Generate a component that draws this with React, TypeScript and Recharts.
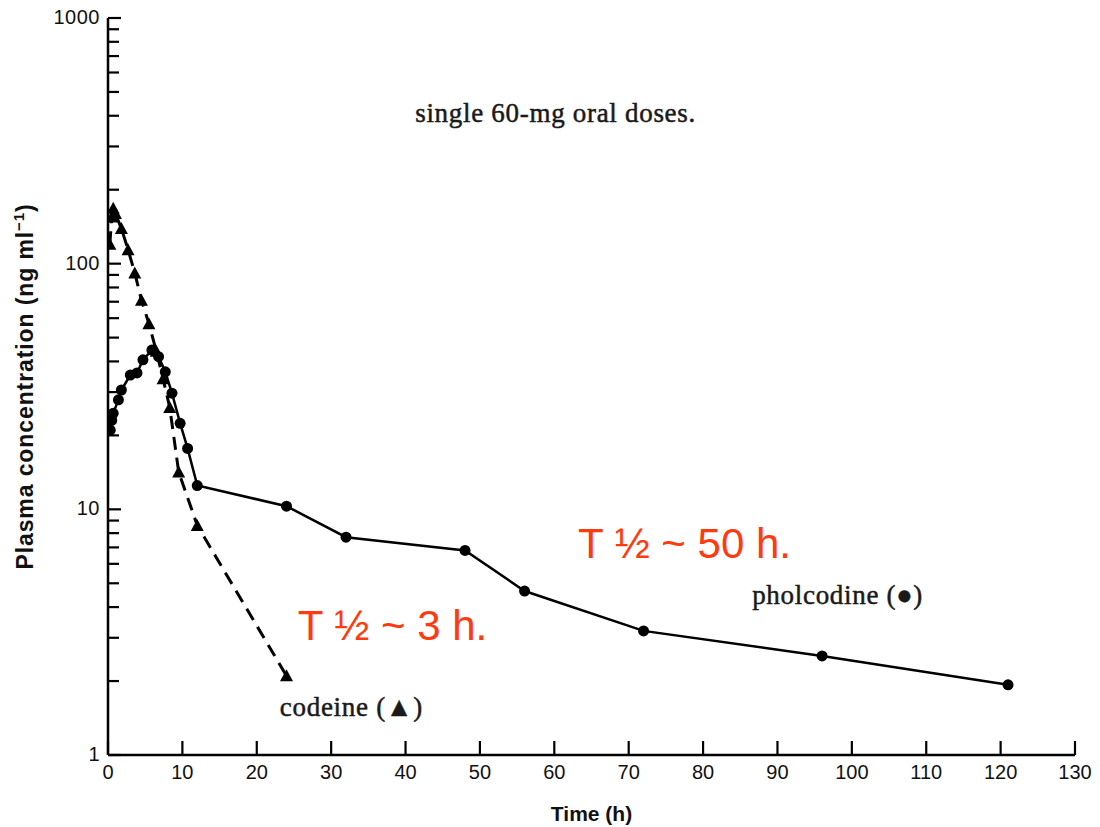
import React from "react";
import { LineChart, Line, XAxis, YAxis, ReferenceDot } from "recharts";

const phTime = [0.3, 0.5, 0.7, 1.4, 1.8, 3, 3.9, 4.7, 5.9, 6.8, 7.7, 8.6, 9.7, 10.7, 12, 24, 32, 48, 56, 72, 96, 121];
const phConc = [21, 23, 24.6, 27.9, 30.6, 35.2, 35.9, 40.6, 44.5, 41.8, 36.3, 29.7, 22.4, 17.7, 12.5, 10.3, 7.7, 6.8, 4.65, 3.2, 2.53, 1.93];

const coTime = [0.25, 0.5, 0.7, 1.0, 1.8, 2.7, 3.6, 4.5, 5.5, 6.5, 7.4, 8.3, 9.5, 12, 24];
const coConc = [120, 155, 168, 160, 139, 114, 91.6, 71, 57, 44, 34, 26, 14.2, 8.6, 2.1];

const xTicks = [0, 10, 20, 30, 40, 50, 60, 70, 80, 90, 100, 110, 120, 130];
const yTicks = [
  1, 2, 3, 4, 5, 6, 7, 8, 9,
  10, 20, 30, 40, 50, 60, 70, 80, 90,
  100, 200, 300, 400, 500, 600, 700, 800, 900,
  1000,
];
const yLabels = [1, 10, 100, 1000];

const pholData = phTime.map((t, i) => ({ t, c: phConc[i] }));
const codData = coTime.map((t, i) => ({ t, c: coConc[i] }));

const annotations = [
  { t: 41.3, c: 377, text: "single 60-mg oral doses.", kind: "serif" },
  { t: 86.6, c: 4.12, text: "pholcodine (\u25CF)", kind: "serif" },
  { t: 23.1, c: 1.44, text: "codeine (\u25B2)", kind: "serif" },
  { t: 63.2, c: 6.34, text: "T \u00BD ~ 50 h.", kind: "red" },
  { t: 25.5, c: 2.94, text: "T \u00BD ~ 3 h.", kind: "red" },
];

const SANS = "'Liberation Sans', Arial, Helvetica, sans-serif";
const SERIF = "'Liberation Serif', 'Times New Roman', serif";

const YTick = (props: any) => {
  const { x, y, payload } = props;
  const v = payload.value;
  const major = yLabels.includes(v);
  const ax = x + 8;
  return (
    <g>
      <line x1={ax} x2={ax + (major ? 13 : 11)} y1={y} y2={y} stroke="#000" strokeWidth={2.2} />
      {major && (
        <text x={x} y={y} dy={6} textAnchor="end" fontFamily={SANS} fontSize={20} fill="#111" letterSpacing={0.5}>
          {v}
        </text>
      )}
    </g>
  );
};

const XTick = (props: any) => {
  const { x, y, payload } = props;
  const ay = y - 6;
  return (
    <g>
      <line x1={x} x2={x} y1={ay} y2={ay - 14} stroke="#000" strokeWidth={2.2} />
      <text x={x} y={y} dy={18} textAnchor="middle" fontFamily={SANS} fontSize={20} fill="#111">
        {payload.value}
      </text>
    </g>
  );
};

const Triangle = (props: any) => {
  const { cx, cy, index } = props;
  if (cx == null || cy == null) return <g key={`tr-${index}`} />;
  const s = 6.5;
  return (
    <polygon
      key={`tr-${index}`}
      points={`${cx},${cy - s} ${cx - s},${cy + s * 0.85} ${cx + s},${cy + s * 0.85}`}
      fill="#000"
    />
  );
};

const Circle = (props: any) => {
  const { cx, cy, index } = props;
  if (cx == null || cy == null) return <g key={`ci-${index}`} />;
  return <circle key={`ci-${index}`} cx={cx} cy={cy} r={5.5} fill="#000" />;
};

const YTitle = (props: any) => {
  const vb = props.viewBox || {};
  const cx = 33;
  const cy = vb.y + vb.height / 2;
  return (
    <text
      x={cx}
      y={cy}
      transform={`rotate(-90, ${cx}, ${cy})`}
      textAnchor="middle"
      fontFamily={SANS}
      fontSize={23}
      fontWeight={600}
      letterSpacing={0.9}
      fill="#111"
    >
      Plasma concentration (ng ml
      <tspan dy={-9} fontSize={15}>{"\u22121"}</tspan>
      <tspan dy={9}>)</tspan>
    </text>
  );
};

const AnnotShape = (text: string, kind: string) => (p: any) => {
  const { cx, cy } = p;
  if (kind === "red") {
    return (
      <text x={cx} y={cy} fontFamily={SANS} fontSize={42} fill="#FF3A0E">
        {text}
      </text>
    );
  }
  return (
    <text
      x={cx}
      y={cy}
      fontFamily={SERIF}
      fontSize={27}
      letterSpacing={0.7}
      fill="#1a1a1a"
      stroke="#1a1a1a"
      strokeWidth={0.5}
    >
      {text}
    </text>
  );
};

export default function App() {
  return (
    <div style={{ position: "absolute", left: 0, top: 0, width: 1100, height: 827, background: "#fff" }}>
      <LineChart width={1100} height={827} margin={{ top: 18, right: 25, bottom: 0, left: 0 }}>
        <XAxis
          type="number"
          dataKey="t"
          domain={[0, 130]}
          ticks={xTicks}
          interval={0}
          allowDataOverflow
          height={72}
          tickSize={0}
          tickMargin={6}
          tick={<XTick />}
          axisLine={{ stroke: "#000", strokeWidth: 2.5 }}
          label={{
            value: "Time (h)",
            position: "insideBottom",
            offset: 6,
            fontFamily: SANS,
            fontSize: 21,
            fontWeight: 600,
            fill: "#111",
          }}
        />
        <YAxis
          type="number"
          scale="log"
          domain={[1, 1000]}
          ticks={yTicks}
          interval={0}
          allowDataOverflow
          width={108}
          tickSize={0}
          tickMargin={8}
          tick={<YTick />}
          axisLine={{ stroke: "#000", strokeWidth: 2.5 }}
          label={<YTitle />}
        />
        <Line
          data={codData}
          dataKey="c"
          type="linear"
          stroke="#000"
          strokeWidth={3}
          strokeDasharray="13 8"
          dot={Triangle}
          isAnimationActive={false}
        />
        <Line
          data={pholData}
          dataKey="c"
          type="linear"
          stroke="#000"
          strokeWidth={2.5}
          dot={Circle}
          isAnimationActive={false}
        />
        {annotations.map((a, i) => (
          <ReferenceDot
            key={i}
            x={a.t}
            y={a.c}
            r={0}
            ifOverflow="visible"
            shape={AnnotShape(a.text, a.kind)}
          />
        ))}
      </LineChart>
    </div>
  );
}
